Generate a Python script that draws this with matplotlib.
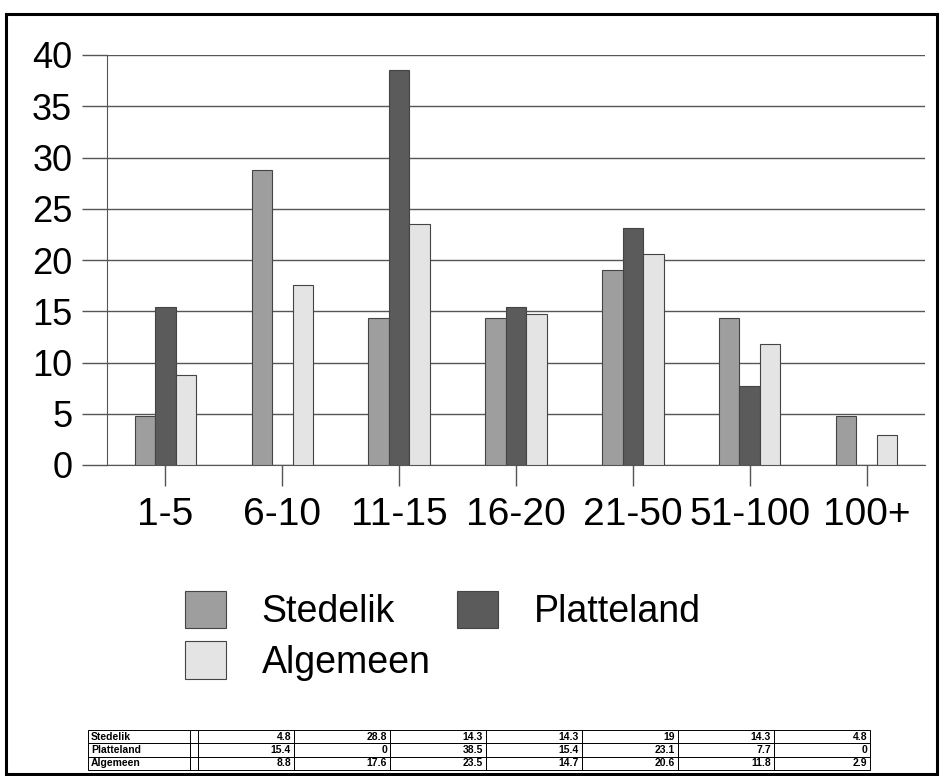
import numpy as np
import matplotlib.pyplot as plt
from matplotlib.patches import Rectangle

plt.rcParams['font.family'] = ['Liberation Sans', 'DejaVu Sans']

# Data
categories = ['1-5', '6-10', '11-15', '16-20', '21-50', '51-100', '100+']
stedelik = [4.8, 28.8, 14.3, 14.3, 19, 14.3, 4.8]
platteland = [15.4, 0, 38.5, 15.4, 23.1, 7.7, 0]
algemeen = [8.8, 17.6, 23.5, 14.7, 20.6, 11.8, 2.9]
series_names = ['Stedelik', 'Platteland', 'Algemeen']
colors = ['#9e9e9e', '#5b5b5b', '#e4e4e4']

W, H = 943, 776
fig = plt.figure(figsize=(W / 100, H / 100), dpi=100)

# outer frame of the scanned page
fig.patches.append(Rectangle((6 / W, 2 / H), 931 / W, 760 / H, transform=fig.transFigure,
                             fill=False, edgecolor='black', linewidth=2.2))

ax = fig.add_axes([107 / W, 1 - 465 / H, 818 / W, 410 / H])
x = np.arange(len(categories))
bw = 0.175
series = [stedelik, platteland, algemeen]
bars = []
for i, (vals, name, c) in enumerate(zip(series, series_names, colors)):
    b = ax.bar(x + (i - 1) * bw, vals, bw, color=c, edgecolor='#444444', linewidth=0.8,
               label=name, zorder=3)
    bars.append(b)

ax.set_xlim(-0.5, len(categories) - 0.5)
ax.set_ylim(0, 40)
ax.set_yticks(range(0, 41, 5))
ax.set_xticks(x)
ax.set_xticklabels(categories)
ax.yaxis.grid(True, color='#555555', linewidth=1, zorder=0)
for s in ['top', 'right']:
    ax.spines[s].set_visible(False)
ax.spines['left'].set_color('#555555')
ax.spines['bottom'].set_color('#555555')
ax.tick_params(axis='y', length=18, width=1, color='#555555', labelsize=26, pad=7)
ax.tick_params(axis='x', length=15, width=1, color='#555555', labelsize=28, pad=8)

# legend
leg = fig.legend(handles=[bars[0], bars[2], bars[1]],
                 labels=['Stedelik', 'Algemeen', 'Platteland'],
                 ncol=2, loc='upper left', bbox_to_anchor=(151 / W, 1 - 557 / H),
                 frameon=False, fontsize=27, handlelength=1.1, handleheight=1.15,
                 handletextpad=0.95, columnspacing=0.7, labelspacing=0.3)

# data table
tax = fig.add_axes([88 / W, 1 - 770 / H, 782 / W, 40 / H])
tax.axis('off')
cell_text = [[name, ''] + [f'{v:g}' for v in vals] for name, vals in zip(series_names, series)]
col_w = [102, 8] + [96] * 7
col_w = [c / sum(col_w) for c in col_w]
tbl = tax.table(cellText=cell_text, colWidths=col_w, bbox=[0, 0, 1, 1], cellLoc='right')
tbl.auto_set_font_size(False)
for (r, c), cell in tbl.get_celld().items():
    cell.set_linewidth(0.7)
    cell.get_text().set_fontsize(7.5)
    cell.get_text().set_fontweight('bold')
    if c == 0:
        cell.get_text().set_ha('left')
        cell._loc = 'left'
    cell.PAD = 0.03

fig.savefig('out.png', dpi=100)
